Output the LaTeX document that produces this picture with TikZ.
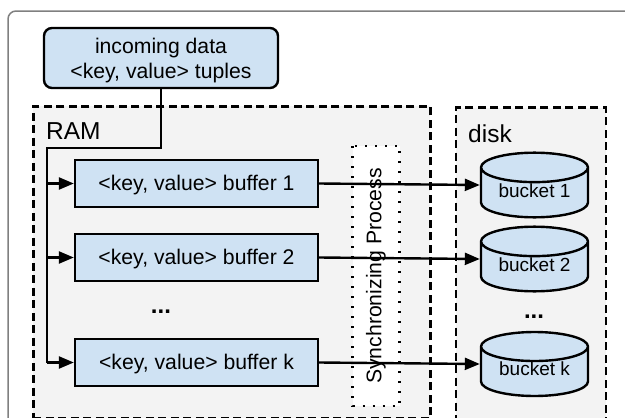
\documentclass[tikz,border=0pt]{standalone}
\usepackage{fontspec}
\setmainfont{Liberation Sans}
\usetikzlibrary{arrows.meta,shapes.geometric}
\definecolor{boxblue}{HTML}{CFE2F3}
\definecolor{areagray}{HTML}{F3F3F3}
\tikzset{
area/.style={draw,fill=areagray,line width=2.5pt,dash pattern=on 8pt off 4.5pt,minimum width=#1,anchor=north west},
buffer/.style={draw,fill=boxblue,line width=2.4pt,minimum width=243pt,minimum height=47pt,text height=19pt,text depth=4.5pt},
bucket/.style={draw,fill=boxblue,line width=2.4pt,cylinder,shape border rotate=90,aspect=0.41,inner sep=0pt,minimum width=107pt,minimum height=64pt,anchor=shape center,font=\fontsize{19}{23}\selectfont},
feed/.style={line width=2.4pt,-{Triangle[length=15pt,width=12pt]}},
label/.style={inner sep=0pt,font=\fontsize{24.5}{29}\selectfont},
ellipsis/.style={inner sep=0pt,font=\fontsize{24}{29}\selectfont\bfseries}
}
\begin{document}
\begin{tikzpicture}[x=1pt,y=-1pt,font=\fontsize{21.2}{25}\selectfont]
\useasboundingbox (0,0) rectangle (625,418);
\draw[gray,line width=1.5pt,rounded corners=8pt] (8,430) -- (8,11) -- (640,11);
\node (incoming) [draw,fill=boxblue,line width=2.4pt,rounded corners=8pt,minimum width=234pt,minimum height=60pt,align=center] at (161,58) {\rule{0pt}{20pt}incoming data\\<key, value> tuples};
\node (ram) [area=397pt,minimum height=312pt] at (32,105) {};
\node (disk) [area=150pt,minimum height=330pt] at (454.7,106.3) {};
\node (ramlabel) [label,anchor=west] at (46,131) {RAM};
\node (disklabel) [label,anchor=west] at (468,134) {disk};
\node (sync) [draw,fill=white,line width=2.4pt,dash pattern=on 2pt off 8pt,rotate=90,minimum width=260pt,minimum height=47pt] at (376,276) {Synchronizing Process};
\node (buf1) [buffer] at (196.5,183.5) {<key, value> buffer 1};
\node (buf2) [buffer] at (196.5,257.5) {<key, value> buffer 2};
\node (bufk) [buffer] at (196.5,362.5) {<key, value> buffer k};
\node (dots1) [ellipsis] at (161,312) {...};
\node (bucket1) [bucket] at (534.5,185) {\raisebox{5.5pt}{bucket 1}};
\node (bucket2) [bucket] at (534.5,259) {\raisebox{5.5pt}{bucket 2}};
\node (bucketk) [bucket] at (534.5,364) {\raisebox{5.5pt}{bucket k}};
\node (dots2) [ellipsis] at (534,317) {...};
\coordinate (bend) at (47,148);
\draw[line width=2.4pt] (incoming.south) |- (bend) -- (bend |- bufk.west);
\draw[feed] (bend |- buf1.west) -- (buf1.west);
\draw[feed] (bend |- buf2.west) -- (buf2.west);
\draw[feed] (bend |- bufk.west) -- (bufk.west);
\draw[feed] (buf1.east) -- (bucket1.west |- bucket1.shape center);
\draw[feed] (buf2.east) -- (bucket2.west |- bucket2.shape center);
\draw[feed] (bufk.east) -- (bucketk.west |- bucketk.shape center);
\end{tikzpicture}
\end{document}
